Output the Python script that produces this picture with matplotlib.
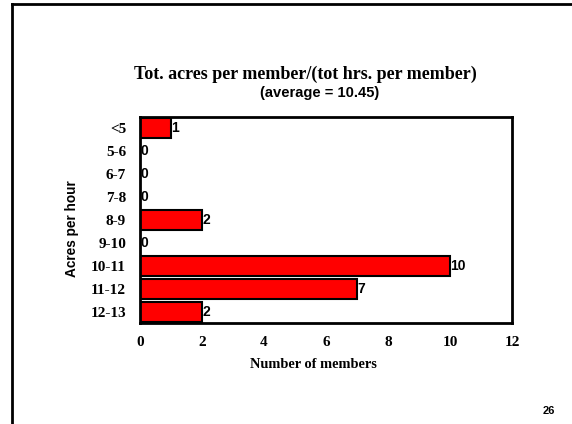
import matplotlib.pyplot as plt
from matplotlib.lines import Line2D

categories = ['<5', '5-6', '6-7', '7-8', '8-9', '9-10', '10-11', '11-12', '12-13']
members = [1, 0, 0, 0, 2, 0, 10, 7, 2]
xticks = [0, 2, 4, 6, 8, 10, 12]

W, H = 572, 424
fig = plt.figure(figsize=(W / 100, H / 100), dpi=100)
ax = fig.add_axes([140 / W, 1 - 323 / H, (512 - 140) / W, (323 - 117) / H])

ypos = list(range(len(categories)))
ax.barh(ypos, members, height=0.87, color='#ff0000', edgecolor='black', linewidth=1.5)
for y, v in zip(ypos, members):
    ax.text(v + 0.02, y, str(v), ha='left', va='center', fontsize=10,
            fontweight='bold', family='Liberation Sans')

ax.set_xlim(0, 12)
ax.set_ylim(len(categories) - 0.5, -0.5)
ax.set_xticks(xticks)
ax.set_xticklabels([str(t) for t in xticks], family='Liberation Serif',
                   fontweight='bold', fontsize=11)
ax.set_yticks(ypos)
ax.set_yticklabels(categories, family='Liberation Serif', fontweight='bold', fontsize=11)
ax.tick_params(axis='both', length=0)
ax.tick_params(axis='x', pad=9)
ax.tick_params(axis='y', pad=10)
for s in ax.spines.values():
    s.set_linewidth(2)

fig.text(313 / W, 1 - 365 / H, 'Number of members', ha='center', va='center',
         family='Liberation Serif', fontweight='bold', fontsize=10.4)
fig.text(72 / W, 1 - 229 / H, 'Acres per hour', ha='center', va='center', rotation=90,
         family='Liberation Sans', fontweight='bold', fontsize=9.8)
fig.text(305 / W, 1 - 74 / H, 'Tot. acres per member/(tot hrs. per member)', ha='center',
         va='center', family='Liberation Serif', fontweight='bold', fontsize=13)
fig.text(320 / W, 1 - 93 / H, '(average = 10.45)', ha='center', va='center',
         family='Liberation Sans', fontweight='bold', fontsize=10.6)
fig.text(549 / W, 1 - 411 / H, '26', ha='center', va='center',
         family='Liberation Sans', fontweight='bold', fontsize=8)

# slide border
fig.add_artist(Line2D([12 / W, 12 / W], [0, 1 - 3.5 / H], color='black', linewidth=2))
fig.add_artist(Line2D([12 / W, 1], [1 - 3.5 / H, 1 - 3.5 / H], color='black', linewidth=2))

fig.savefig('out.png', dpi=100)
